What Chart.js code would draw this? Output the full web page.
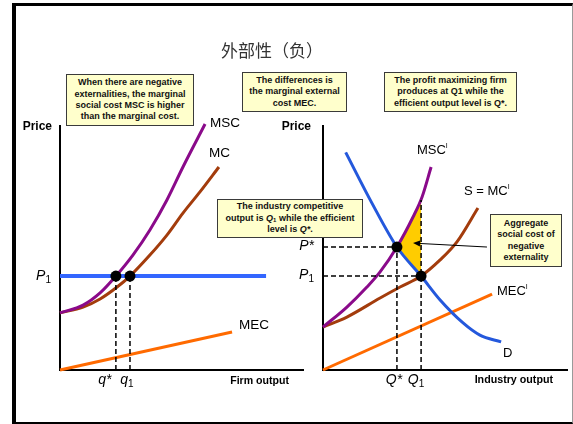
<!DOCTYPE html>
<html>
<head>
<meta charset="utf-8">
<title>外部性（负）</title>
<script src="https://cdn.jsdelivr.net/npm/chart.js@4.4.1/dist/chart.umd.min.js"></script>
<style>
  html, body { margin: 0; padding: 0; background: #fff; }
  #stage { position: relative; width: 573px; height: 424px; overflow: hidden;
           font-family: "Liberation Sans", Arial, sans-serif; }
  #frame { position: absolute; left: 12px; top: 3px; width: 561px; height: 421px; box-sizing: border-box;
           border-left: 4px solid #000; border-top: 3px solid #000;
           border-right: 1px solid #9a9a9a; border-bottom: 2px solid #000; }
  canvas { position: absolute; left: 0; top: 0; }
  #title { position: absolute; left: 221px; top: 38px; font: 17px "Noto Sans CJK SC", sans-serif;
           color: #333; line-height: 24px; white-space: nowrap; z-index: 5; }
  .note { position: absolute; box-sizing: border-box; background: #ffffcc; border: 1px solid #3a3a3a;
          display: flex; flex-direction: column; justify-content: center; align-items: center;
          font: bold 9px "Liberation Sans", Arial, sans-serif; line-height: 11.4px; color: #111;
          text-align: center; white-space: nowrap; z-index: 5; }
  .note sub { font-size: 6px; vertical-align: -1px; line-height: 0; }
</style>
</head>
<body>
<div id="stage">
  <div id="frame"></div>
  <canvas id="firm" width="573" height="424"></canvas>
  <canvas id="industry" width="573" height="424"></canvas>
  <div id="title">外部性（负）</div>
  <div class="note" style="left:66px;top:74px;width:128px;height:52px;">
    <div>When there are negative</div>
    <div>externalities, the marginal</div>
    <div>social cost MSC is higher</div>
    <div>than the marginal cost.</div>
  </div>
  <div class="note" style="left:242px;top:72px;width:105px;height:40px;">
    <div>The differences is</div>
    <div>the marginal external</div>
    <div>cost MEC.</div>
  </div>
  <div class="note" style="left:384px;top:72px;width:133px;height:40px;">
    <div>The profit maximizing firm</div>
    <div>produces at Q1 while the</div>
    <div>efficient output level is Q*.</div>
  </div>
  <div class="note" style="left:217px;top:199px;width:146px;height:39px;">
    <div>The industry competitive</div>
    <div>output is <i>Q</i><sub>1</sub> while the efficient</div>
    <div>level is <i>Q*</i>.</div>
  </div>
  <div class="note" style="left:490px;top:214px;width:72px;height:53px;">
    <div>Aggregate</div>
    <div>social cost of</div>
    <div>negative</div>
    <div>externality</div>
  </div>
</div>
<script>
// ---- Firm (left) panel: output on x, price on y, both in 0..10 units ----
const firmMSC = [[0, 2.34], [0.95, 2.66], [1.65, 3.16], [2.30, 3.85], [3.00, 4.71], [3.70, 5.74], [4.40, 6.97], [5.06, 8.32], [5.97, 10.08]];
const firmMC  = [[0, 2.34], [0.95, 2.58], [1.65, 2.91], [2.35, 3.40], [2.88, 3.85], [3.70, 4.71], [4.40, 5.53], [5.06, 6.43], [5.76, 7.30], [6.54, 8.32]];
const firmMEC = [[0, 0], [7.08, 1.56]];
const firmP1 = 3.85;
const firmP1End = 8.48;
const firmQStar = 2.30;
const firmQ1 = 2.88;

// ---- Industry (right) panel ----
const indD   = [[0.93, 8.92], [2.00, 6.85], [3.03, 5.04], [4.02, 3.85], [4.80, 2.87], [5.74, 1.93], [6.43, 1.43], [7.30, 1.15]];
const indMSC = [[0, 1.76], [0.98, 2.58], [1.80, 3.40], [2.34, 4.02], [3.03, 5.04], [3.69, 6.27], [4.06, 7.09], [4.43, 8.32]];
const indMC  = [[0, 1.76], [0.98, 2.17], [2.34, 2.95], [3.16, 3.40], [4.02, 3.85], [4.80, 4.51], [5.49, 5.25], [6.35, 6.64]];
const indMEC = [[0, 0], [6.93, 3.11]];
const indPStar = 5.04;
const indP1 = 3.85;
const indQStar = 3.03;
const indQ1 = 4.02;
const indQ1Top = 6.97;           // where the Q1 line meets MSC
const socialCostArea = [[3.03, 5.04], [3.69, 6.27], [4.02, 6.97], [4.02, 3.85], [3.03, 5.04]];
const arrowFrom = [6.72, 5.04];
const arrowTo = [3.69, 5.20];

const FONT = '"Liberation Sans", Arial, sans-serif';
const PURPLE = '#8a0a8a', BROWN = '#a33c0c', ORANGE = '#ff6a00', BLUE = '#3366ff', DBLUE = '#2458dc';

const pts = arr => arr.map(([x, y]) => ({ x, y }));

function curve(data, color, order, width) {
  return { data: pts(data), showLine: true, borderColor: color, borderWidth: width || 3,
           pointRadius: 0, cubicInterpolationMode: 'monotone', fill: false, order, clip: false };
}
function straight(data, color, order, width, dash) {
  return { data: pts(data), showLine: true, borderColor: color, borderWidth: width || 3,
           borderDash: dash || [], pointRadius: 0, tension: 0, fill: false, order, clip: false,
           borderCapStyle: 'butt' };
}
function dots(data) {
  return { data: pts(data), showLine: false, pointRadius: 5.5, pointBackgroundColor: '#000',
           pointBorderWidth: 0, order: 0, clip: false };
}

// draws a run of text pieces (for subscripts / superscripts) anchored at x,y
function rich(ctx, x, y, parts, align) {
  let total = 0;
  parts.forEach(p => { ctx.font = p.f; p.w = ctx.measureText(p.t).width; total += p.w; });
  let cx = align === 'right' ? x - total : align === 'center' ? x - total / 2 : x;
  ctx.textAlign = 'left';
  ctx.textBaseline = 'middle';
  ctx.fillStyle = '#000';
  parts.forEach(p => { ctx.font = p.f; ctx.fillText(p.t, cx, y + (p.dy || 0)); cx += p.w; });
}
const ital = t => ({ t, f: 'italic 14px ' + FONT });
const sub = t => ({ t, f: '10px ' + FONT, dy: 4 });
const reg = (t, s) => ({ t, f: (s || 13.5) + 'px ' + FONT });
const sup = t => ({ t, f: '7px ' + FONT, dy: -5 });
const bold = (t, s) => ({ t, f: 'bold ' + s + 'px ' + FONT });

function scalesCfg() {
  const axis = { type: 'linear', min: 0, max: 10,
                 grid: { display: false, drawTicks: false },
                 ticks: { display: false },
                 border: { display: true, color: '#000', width: 2 } };
  return { x: { ...axis, position: 'bottom' }, y: { ...axis, position: 'left' } };
}

const firmText = {
  id: 'firmText',
  afterDraw(chart) {
    const { ctx, chartArea: a, scales: { x, y } } = chart;
    ctx.save();
    rich(ctx, a.left - 8, a.top + 1, [bold('Price', 12)], 'right');
    rich(ctx, a.right - 14, a.bottom + 11, [bold('Firm output', 10.6)], 'right');
    rich(ctx, a.left - 9, y.getPixelForValue(firmP1), [ital('P'), sub('1')], 'right');
    rich(ctx, x.getPixelForValue(firmQStar) - 11, a.bottom + 10, [ital('q*')], 'center');
    rich(ctx, x.getPixelForValue(firmQ1) - 3, a.bottom + 10, [ital('q'), sub('1')], 'center');
    rich(ctx, x.getPixelForValue(6.17), y.getPixelForValue(10.12), [reg('MSC')], 'left');
    rich(ctx, x.getPixelForValue(6.13), y.getPixelForValue(8.89), [reg('MC')], 'left');
    rich(ctx, x.getPixelForValue(7.37), y.getPixelForValue(1.84), [reg('MEC')], 'left');
    ctx.restore();
  }
};

const industryText = {
  id: 'industryText',
  afterDraw(chart) {
    const { ctx, chartArea: a, scales: { x, y } } = chart;
    ctx.save();
    rich(ctx, a.left - 12, a.top + 1, [bold('Price', 12)], 'right');
    rich(ctx, a.right - 14, a.bottom + 10, [bold('Industry output', 10.7)], 'right');
    rich(ctx, a.left - 9, y.getPixelForValue(indPStar) - 1, [ital('P*')], 'right');
    rich(ctx, a.left - 9, y.getPixelForValue(indP1) - 1, [ital('P'), sub('1')], 'right');
    rich(ctx, x.getPixelForValue(indQStar) - 3, a.bottom + 10, [ital('Q*')], 'center');
    rich(ctx, x.getPixelForValue(indQ1) - 5, a.bottom + 10, [ital('Q'), sub('1')], 'center');
    rich(ctx, x.getPixelForValue(3.85), y.getPixelForValue(8.98), [reg('MSC', 13), sup('I')], 'left');
    rich(ctx, x.getPixelForValue(5.78), y.getPixelForValue(7.30), [reg('S = MC', 13), sup('I')], 'left');
    rich(ctx, x.getPixelForValue(7.13), y.getPixelForValue(3.20), [reg('MEC', 13), sup('I')], 'left');
    rich(ctx, x.getPixelForValue(7.38), y.getPixelForValue(0.66), [reg('D', 13)], 'left');

    // pointer from the note to the shaded area
    const x0 = x.getPixelForValue(arrowFrom[0]), y0 = y.getPixelForValue(arrowFrom[1]);
    const x1 = x.getPixelForValue(arrowTo[0]), y1 = y.getPixelForValue(arrowTo[1]);
    const ang = Math.atan2(y1 - y0, x1 - x0);
    ctx.strokeStyle = '#000';
    ctx.lineWidth = 1;
    ctx.beginPath();
    ctx.moveTo(x0, y0);
    ctx.lineTo(x1 - 5 * Math.cos(ang), y1 - 5 * Math.sin(ang));
    ctx.stroke();
    ctx.fillStyle = '#000';
    ctx.beginPath();
    ctx.moveTo(x1, y1);
    ctx.lineTo(x1 - 7 * Math.cos(ang) + 3 * Math.sin(ang), y1 - 7 * Math.sin(ang) - 3 * Math.cos(ang));
    ctx.lineTo(x1 - 7 * Math.cos(ang) - 3 * Math.sin(ang), y1 - 7 * Math.sin(ang) + 3 * Math.cos(ang));
    ctx.closePath();
    ctx.fill();
    ctx.restore();
  }
};

const common = {
  responsive: false,
  animation: false,
  devicePixelRatio: 1,
  events: [],
  plugins: { legend: { display: false }, tooltip: { enabled: false } }
};

new Chart(document.getElementById('firm'), {
  type: 'scatter',
  data: {
    datasets: [
      dots([[firmQStar, firmP1], [firmQ1, firmP1]]),
      straight([[firmQStar, 0], [firmQStar, firmP1]], '#000', 1, 1.5, [5, 3]),
      straight([[firmQ1, 0], [firmQ1, firmP1]], '#000', 1, 1.5, [5, 3]),
      curve(firmMSC, PURPLE, 2),
      curve(firmMC, BROWN, 3),
      straight([[0, firmP1], [firmP1End, firmP1]], BLUE, 4, 4),
      straight(firmMEC, ORANGE, 5, 3)
    ]
  },
  options: {
    ...common,
    layout: { padding: { left: 60, top: 126, right: 270, bottom: 54 }, autoPadding: false },
    scales: scalesCfg()
  },
  plugins: [firmText]
});

new Chart(document.getElementById('industry'), {
  type: 'scatter',
  data: {
    datasets: [
      dots([[indQStar, indPStar], [indQ1, indP1]]),
      straight([[0, indPStar], [indQStar, indPStar]], '#000', 1, 1.5, [5, 3]),
      straight([[0, indP1], [indQ1, indP1]], '#000', 1, 1.5, [5, 3]),
      straight([[indQStar, 0], [indQStar, indPStar]], '#000', 1, 1.5, [5, 3]),
      straight([[indQ1, 0], [indQ1, indQ1Top]], '#000', 1, 1.5, [5, 3]),
      curve(indMSC, PURPLE, 2),
      curve(indMC, BROWN, 3),
      curve(indD, DBLUE, 4),
      straight(indMEC, ORANGE, 5, 3),
      { data: pts(socialCostArea), showLine: true, borderWidth: 0, borderColor: 'rgba(0,0,0,0)',
        backgroundColor: '#ffcc00', fill: 'shape', tension: 0, pointRadius: 0, order: 9 }
    ]
  },
  options: {
    ...common,
    layout: { padding: { left: 323, top: 126, right: 6, bottom: 54 }, autoPadding: false },
    scales: scalesCfg()
  },
  plugins: [industryText]
});
</script>
</body>
</html>
